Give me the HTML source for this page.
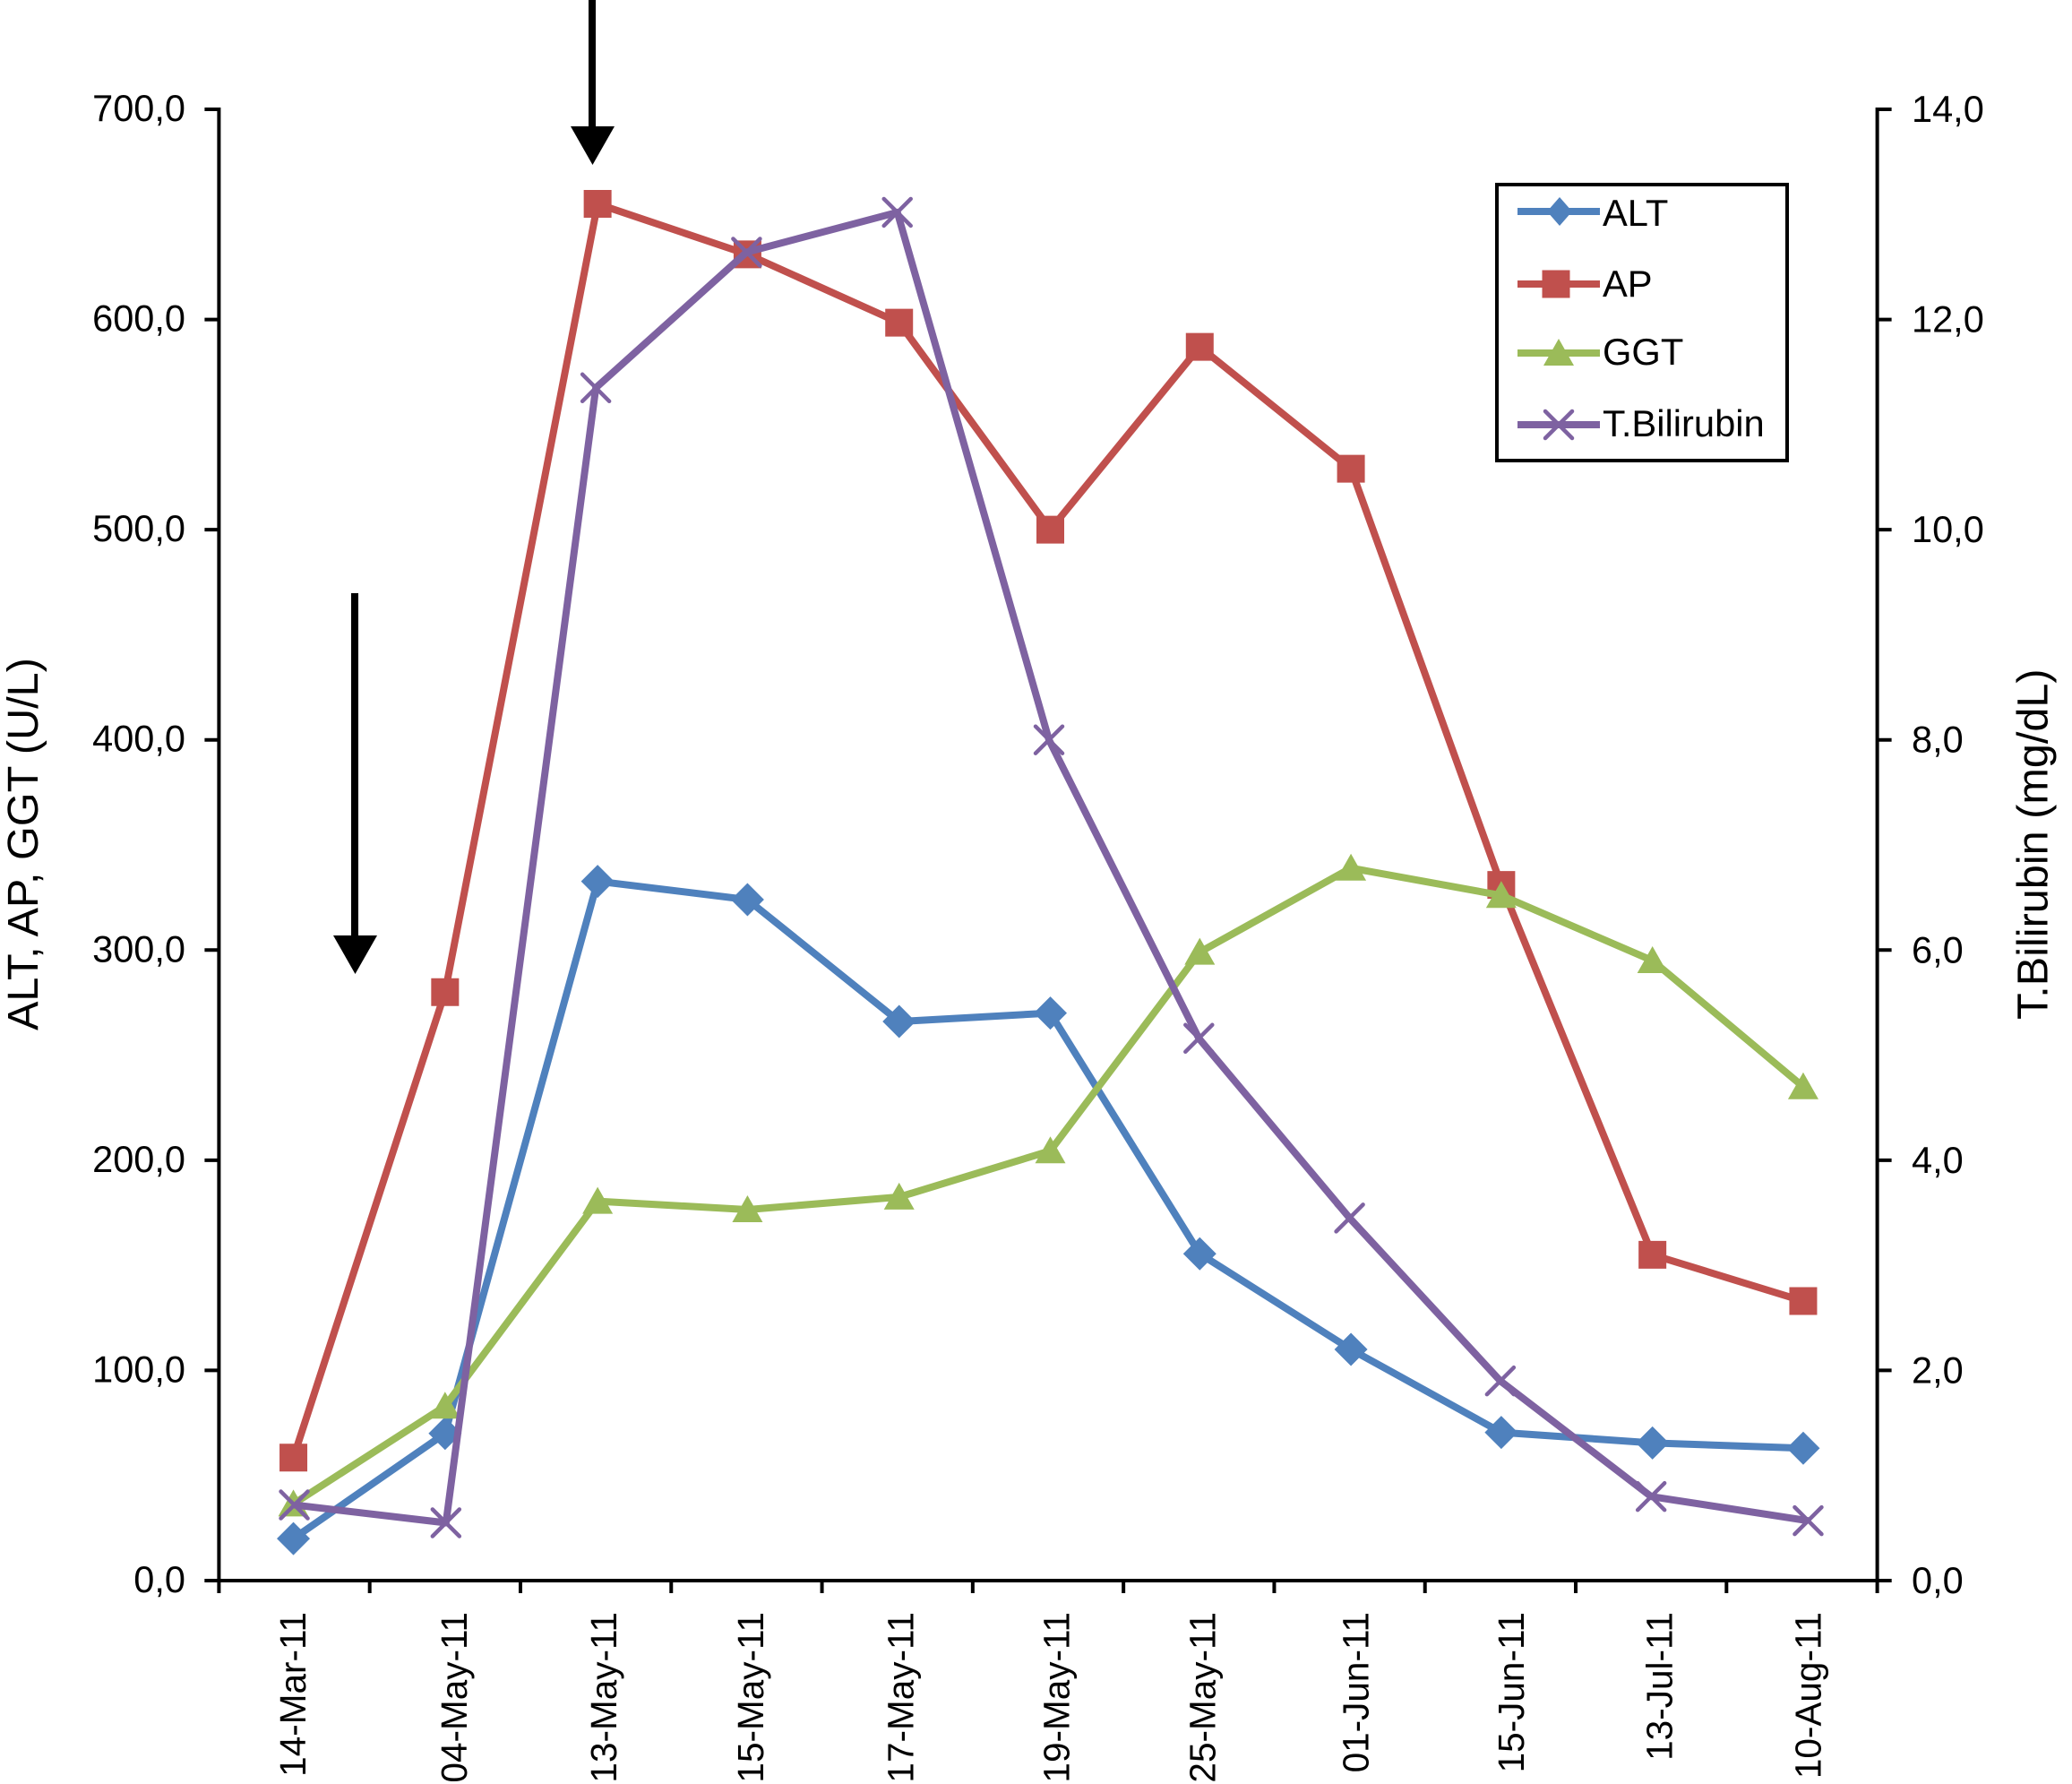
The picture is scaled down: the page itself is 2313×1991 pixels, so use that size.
<!DOCTYPE html>
<html lang="en">
<head>
<meta charset="utf-8">
<title>Liver enzymes and bilirubin over time</title>
<style>
  html, body { margin: 0; padding: 0; background: #fff; }
  body { width: 2313px; height: 1991px; overflow: hidden; }
  svg { display: block; }
  text { font-family: "Liberation Sans", Arial, sans-serif; fill: #000; }
</style>
</head>
<body>
<svg id="chart" xmlns="http://www.w3.org/2000/svg" width="2313" height="1991" viewBox="0 0 2313 1991">
  <rect x="0" y="0" width="2313" height="1991" fill="#fff"/>
  <g id="axes"></g>
  <g id="series"></g>

  <text transform="translate(42 1150) rotate(-90)" font-size="48.6">ALT, AP, GGT (U/L)</text>
  <text transform="translate(2285.5 1138) rotate(-90)" font-size="48.6">T.Bilirubin (mg/dL)</text>

  <g>
    <rect x="657" y="0" width="8" height="145" fill="#000"/>
    <polygon points="637,141 686,141 661.5,184" fill="#000"/>
  </g>
  <g>
    <rect x="392" y="662" width="8" height="385" fill="#000"/>
    <polygon points="372,1044 421,1044 396.5,1087" fill="#000"/>
  </g>

  <g id="legend">
    <rect x="1671" y="206" width="324" height="308" fill="#fff" stroke="#000" stroke-width="4"/>
  </g>
</svg>

<script>
const categories = ['14-Mar-11','04-May-11','13-May-11','15-May-11','17-May-11','19-May-11','25-May-11','01-Jun-11','15-Jun-11','13-Jul-11','10-Aug-11'];
const altValues = [20, 70, 332.7, 324, 266, 270, 155.5, 110, 70.5, 65.5, 63];
const apValues = [58.5, 280, 655, 631, 598.5, 500, 587, 529, 331, 155, 133];
const ggtValues = [36.5, 83, 180.5, 176.5, 182.5, 204.5, 299, 339, 326, 295, 235];
const bilirubinValues = [0.72, 0.55, 11.35, 12.64, 13.02, 8.0, 5.16, 3.45, 1.9, 0.8, 0.57];
const leftTickValues = [0, 100, 200, 300, 400, 500, 600, 700];
const rightTickValues = [0, 2, 4, 6, 8, 10, 12, 14];
const leftTickLabels = ['0,0','100,0','200,0','300,0','400,0','500,0','600,0','700,0'];
const rightTickLabels = ['0,0','2,0','4,0','6,0','8,0','10,0','12,0','14,0'];
const seriesNames = ['ALT', 'AP', 'GGT', 'T.Bilirubin'];

const PLOT_LEFT = 244.4, PLOT_RIGHT = 2095.6, PLOT_TOP = 122, PLOT_BOTTOM = 1764;
const LEFT_MAX = 700, RIGHT_MAX = 14;
const categoryLabelNudge = [-7.5, 4, 3, -1.5, -2, 3.5, -1.7, 1, 6, 3.5, 1];
const pointNudge = [-1, 0, 2, 1, 2, 2.5, 1, 1.5, 1, 1.5, 1.5];
const bilirubinPointNudge = [0, 1, 0, 0, 0, 1, 0, 0, 0, 0, 7];
const SVG_NS = 'http://www.w3.org/2000/svg';
const BLACK = '#000';
const BLUE = '#4F81BD', RED = '#C0504D', GREEN = '#9BBB59', PURPLE = '#7E62A1';

function bandWidth() { return (PLOT_RIGHT - PLOT_LEFT) / categories.length; }
function xCenter(i) { return PLOT_LEFT + (i + 0.5) * bandWidth(); }
function xPoint(i) { return xCenter(i) + pointNudge[i]; }
function xBilirubin(i) { return xCenter(i) + bilirubinPointNudge[i]; }
function xEdge(i) { return PLOT_LEFT + i * bandWidth(); }
function yLeft(v) { return PLOT_BOTTOM - (v / LEFT_MAX) * (PLOT_BOTTOM - PLOT_TOP); }
function yRight(v) { return PLOT_BOTTOM - (v / RIGHT_MAX) * (PLOT_BOTTOM - PLOT_TOP); }

function make(tag, parent) {
  const el = document.createElementNS(SVG_NS, tag);
  parent.appendChild(el);
  return el;
}
function drawSegment(parent, x1, y1, x2, y2, color, width) {
  const el = make('line', parent);
  el.setAttribute('x1', x1);
  el.setAttribute('y1', y1);
  el.setAttribute('x2', x2);
  el.setAttribute('y2', y2);
  el.setAttribute('stroke', color);
  el.setAttribute('stroke-width', width);
  return el;
}
function drawLabel(parent, content, x, y, size, anchor) {
  const el = make('text', parent);
  el.textContent = content;
  el.setAttribute('x', x);
  el.setAttribute('y', y);
  el.setAttribute('font-size', size);
  el.setAttribute('text-anchor', anchor);
  return el;
}

/* marker outlines, relative to the data point */
function diamondPath(x, y, hw, hh) { return `M${x} ${y - hh}L${x + hw} ${y}L${x} ${y + hh}L${x - hw} ${y}Z`; }
function squarePath(x, y) { return `M${x - 15.5} ${y - 15.5}h31v31h-31Z`; }
function trianglePath(x, y) { return `M${x} ${y - 16}L${x + 17} ${y + 14}L${x - 17} ${y + 14}Z`; }
function crossPath(x, y) { return `M${x - 15} ${y - 15}L${x + 15} ${y + 15}M${x + 15} ${y - 15}L${x - 15} ${y + 15}`; }

function drawMarker(parent, kind, x, y, color) {
  const el = make('path', parent);
  if (kind === 'cross') {
    el.setAttribute('d', crossPath(x, y));
    el.setAttribute('fill', 'none');
    el.setAttribute('stroke', color);
    el.setAttribute('stroke-width', 4.5);
    el.setAttribute('stroke-linecap', 'round');
  } else {
    let shape;
    if (kind === 'diamond') shape = diamondPath(x, y, 18.5, 18.5);
    else if (kind === 'legend-diamond') shape = diamondPath(x, y, 14, 16);
    else if (kind === 'square') shape = squarePath(x, y);
    else shape = trianglePath(x, y);
    el.setAttribute('d', shape);
    el.setAttribute('fill', color);
  }
  return el;
}

function drawAxes() {
  const g = document.getElementById('axes');

  const leftAxis = drawSegment(g, PLOT_LEFT, PLOT_TOP - 2, PLOT_LEFT, PLOT_BOTTOM + 14, BLACK, 4);
  
  

  const rightAxis = drawSegment(g, PLOT_RIGHT, PLOT_TOP - 2, PLOT_RIGHT, PLOT_BOTTOM + 14, BLACK, 4);
  
  

  const xAxis = drawSegment(g, PLOT_LEFT - 16, PLOT_BOTTOM, PLOT_RIGHT + 16, PLOT_BOTTOM, BLACK, 4);
  
  

  leftTickValues.forEach((v, i) => {
    const y = yLeft(v);
    const tick = drawSegment(g, PLOT_LEFT - 16, y, PLOT_LEFT, y, BLACK, 4);
    
    
    const label = drawLabel(g, leftTickLabels[i], 207, y + 13, 41.5, 'end');
    
    
  });

  rightTickValues.forEach((v, i) => {
    const y = yRight(v);
    const tick = drawSegment(g, PLOT_RIGHT, y, PLOT_RIGHT + 16, y, BLACK, 4);
    
    
    const label = drawLabel(g, rightTickLabels[i], 2134, y + 14, 41.5, 'start');
    
    
  });

  for (let i = 1; i < categories.length; i++) {
    const x = xEdge(i);
    const tick = drawSegment(g, x, PLOT_BOTTOM, x, PLOT_BOTTOM + 14, BLACK, 4);
    
    
  }

  categories.forEach((name, i) => {
    const x = xCenter(i) + 20 + categoryLabelNudge[i];
    const label = drawLabel(g, name, 0, 0, 40.5, 'end');
    label.setAttribute('transform', `translate(${x} 1799) rotate(-90)`);
    
    
  });
}

function drawSeries(name, values, xScale, yScale, color, kind) {
  const root = document.getElementById('series');
  const g = make('g', root);
  
  

  const line = make('polyline', g);
  line.setAttribute('points', values.map((v, i) => `${xScale(i)},${yScale(v)}`).join(' '));
  line.setAttribute('fill', 'none');
  line.setAttribute('stroke', color);
  line.setAttribute('stroke-width', 8);
  line.setAttribute('stroke-linejoin', 'round');
  
  

  values.forEach((v, i) => {
    const marker = drawMarker(g, kind, xScale(i), yScale(v), color);
    
    
  });
}

function drawLegendEntry(name, y, color, kind, markerX, textY) {
  const legend = document.getElementById('legend');
  const g = make('g', legend);
  
  

  const swatch = drawSegment(g, 1694, y, 1786, y, color, 8);
  
  

  const marker = drawMarker(g, kind, markerX, y, color);
  
  

  const label = drawLabel(g, name, 1789, textY, 41.7, 'start');
  
  
}

drawAxes();
drawSeries(seriesNames[0], altValues, xPoint, yLeft, BLUE, 'diamond');
drawSeries(seriesNames[1], apValues, xPoint, yLeft, RED, 'square');
drawSeries(seriesNames[2], ggtValues, xPoint, yLeft, GREEN, 'triangle');
drawSeries(seriesNames[3], bilirubinValues, xBilirubin, yRight, PURPLE, 'cross');

drawLegendEntry(seriesNames[0], 236, BLUE, 'legend-diamond', 1741, 252);
drawLegendEntry(seriesNames[1], 317, RED, 'square', 1737, 331);
drawLegendEntry(seriesNames[2], 394, GREEN, 'triangle', 1740, 407);
drawLegendEntry(seriesNames[3], 474, PURPLE, 'cross', 1740, 487);
</script>
</body>
</html>
